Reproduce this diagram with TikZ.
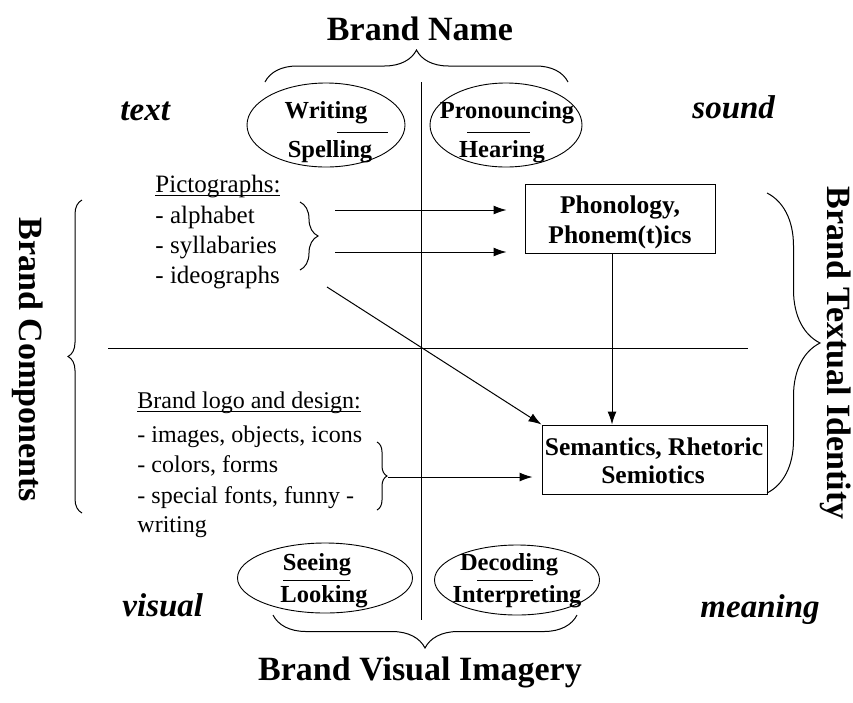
\documentclass[tikz,border=0pt]{standalone}
\usepackage{fontspec}
\setmainfont{Liberation Serif}
\usetikzlibrary{arrows.meta,shapes.geometric,decorations.pathreplacing}

% underline set just below the baseline, through the descenders
\newcommand\undl[1]{\setbox0\hbox{#1}\rlap{\rule[-3.5pt]{\wd0}{0.9pt}}\box0}

\begin{document}
\begin{tikzpicture}[x=1pt,y=-1pt,
  line width=0.9pt,
  title/.style={font=\fontsize{34}{40}\selectfont\bfseries, inner sep=0pt},
  corner/.style={font=\fontsize{33}{40}\selectfont\bfseries\itshape, inner sep=0pt, anchor=base west},
  ovaltext/.style={font=\fontsize{24.5}{28}\selectfont\bfseries, inner sep=0pt, anchor=base},
  listtext/.style={font=\fontsize{25}{28}\selectfont, inner sep=0pt, anchor=base west},
  logotext/.style={font=\fontsize{24}{28}\selectfont, inner sep=0pt, anchor=base west},
  oval/.style={ellipse, draw, line width=0.9pt, inner sep=0pt},
  box/.style={draw, line width=1pt, inner sep=0pt},
  boxtext/.style={font=\fontsize{25.5}{30}\selectfont\bfseries, inner sep=0pt, anchor=base},
  arr/.style={-{Latex[length=13pt,width=9pt]}, line width=1pt},
  curly/.style={decorate, decoration={brace, amplitude=#1}, line width=1pt},
  rulebar/.style={line width=1pt},
]
\useasboundingbox (0,0) rectangle (853,702);

% quadrant axes
\coordinate (vtop) at (421,82);
\coordinate (vbot) at (421,620);
\coordinate (hl) at (108,348);
\coordinate (hr) at (748,348);
\draw (vtop) -- (vbot);
\draw (hl) -- (hr);

% titles
\node[title, anchor=base] (bname) at (420,40) {Brand Name};
\node[title, anchor=base] (bvis) at (420,680) {Brand Visual Imagery};
\node[title, rotate=-90] (bcomp) at (28,360) {Brand Components};
\node[title, rotate=-90] (btext) at (836,353) {Brand Textual Identity};

% corner words
\node[corner] (ctext) at (120,120) {text};
\node[corner] (csound) at (692,118) {sound};
\node[corner] (cvisual) at (122,616) {visual};
\node[corner] (cmeaning) at (700,617) {meaning};

% outer braces
\draw[curly=32pt] (265,82) -- (568,82);
\draw[curly=33pt] (577,615) -- (273,615);
\draw[curly=14pt] (82,513) -- (82,200);
\draw[curly=53pt] (767,193) -- (767,493);

% ovals
\node[oval, minimum width=158pt, minimum height=84pt] (ws) at (326,125) {};
\node[oval, minimum width=152pt, minimum height=84pt] (ph) at (506,125) {};
\node[oval, minimum width=175pt, minimum height=70pt] (sl) at (325,578) {};
\node[oval, minimum width=165pt, minimum height=70pt] (di) at (517,580) {};

\node[ovaltext] (wri) at (326,118) {Writing};
\node[ovaltext] (spe) at (330,157) {Spelling};
\draw[rulebar] (337,132) -- (388,132);
\node[ovaltext] (pro) at (507,118) {Pronouncing};
\node[ovaltext] (hea) at (502,157) {Hearing};
\draw[rulebar] (467,132) -- (530,132);
\node[ovaltext] (see) at (317,570) {Seeing};
\node[ovaltext] (loo) at (324,602) {Looking};
\draw[rulebar] (283,580) -- (350,580);
\node[ovaltext] (dec) at (509,570) {Decoding};
\node[ovaltext] (int) at (517,602) {Interpreting};
\draw[rulebar] (477,580) -- (533,580);

% boxes
\node[box, minimum width=190pt, minimum height=69pt] (phon) at (620,218.5) {};
\node[boxtext] (phon1) at (620,213) {Phonology,};
\node[boxtext] (phon2) at (620,243) {Phonem(t)ics};
\node[box, minimum width=225pt, minimum height=69pt] (sem) at (654.5,459.5) {};
\node[boxtext] (sem1) at (654,455) {Semantics, Rhetoric};
\node[boxtext] (sem2) at (653,483) {Semiotics};

% lists
\node[listtext] (pic) at (155,192) {\undl{Pictographs:}};
\node[listtext] (alp) at (155,223) {- alphabet};
\node[listtext] (syl) at (155,253) {- syllabaries};
\node[listtext] (ide) at (155,283) {- ideographs};
\node[logotext] (logo) at (137,408) {\undl{Brand logo and design:}};
\node[logotext] (img) at (137,442) {- images, objects, icons};
\node[logotext] (col) at (137,472) {- colors, forms};
\node[logotext] (spc) at (137,503) {- special fonts, funny -};
\node[logotext] (wrt) at (137,532) {writing};

% inner braces
\draw[curly=18pt] (300,202) -- (300,270);
\draw[curly=10pt] (377,442) -- (377,510);
\coordinate (gtip) at (388,477);

% connectors
\coordinate (a1) at (335,210);
\coordinate (a2) at (335,252);
\draw[arr, shorten >=18pt] (a1) -- (a1 -| phon.west);
\draw[arr, shorten >=18pt] (a2) -- (a2 -| phon.west);
\coordinate (vx) at (612,0);
\draw[arr] (phon.south -| vx) -- (sem.north -| vx);
\coordinate (ideo) at (327,287);
\draw[arr] (ideo) -- (sem.north west);
\draw[arr, shorten >=9pt] (gtip) -- (gtip -| sem.west);
\end{tikzpicture}
\end{document}
